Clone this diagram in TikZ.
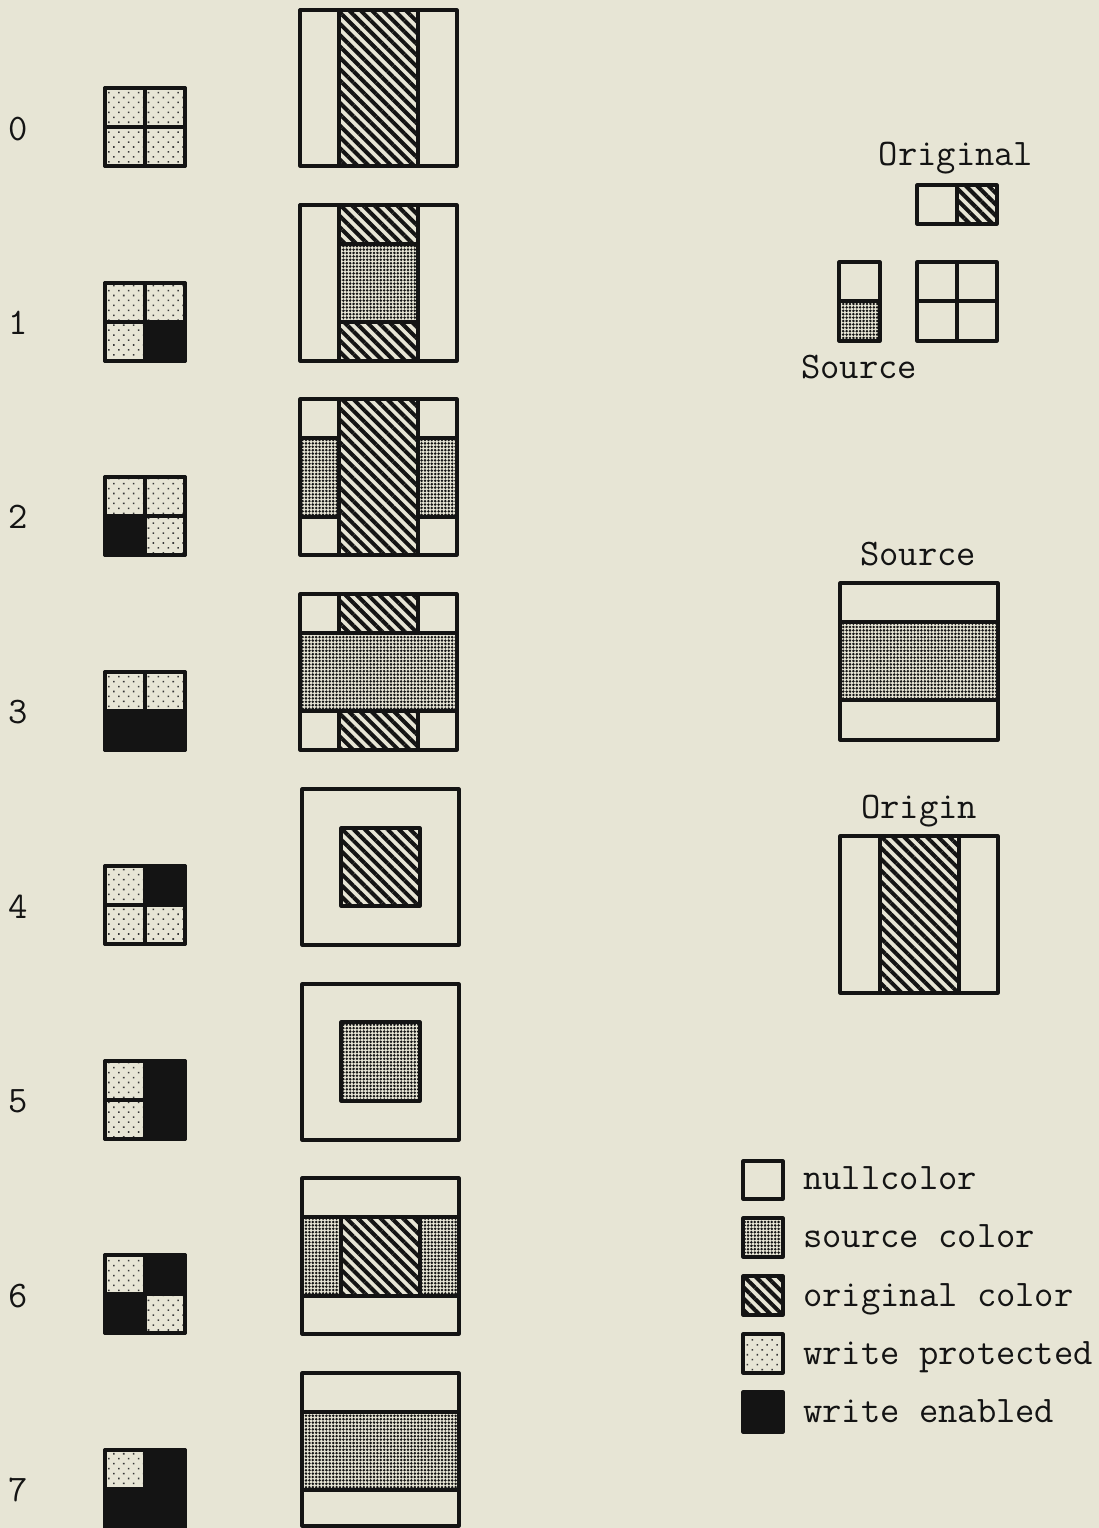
\documentclass[tikz,border=0pt]{standalone}
\usetikzlibrary{patterns.meta}
\definecolor{paper}{RGB}{231,229,213}
\definecolor{ink}{RGB}{20,20,20}
\tikzset{
  box/.style={draw=ink, line width=3.2pt, line join=round},
  nullc/.style={box, fill=paper},
  srcc/.style={box, pattern={Dots[distance=3.4pt, radius=1.4pt]}, pattern color=ink},
  origc/.style={box, pattern={Lines[angle=-45, distance=8pt, line width=4pt]}, pattern color=ink},
  wpc/.style={box, pattern={Dots[distance=7pt, radius=1.1pt, angle=45]}, pattern color=ink!85},
  wec/.style={box, fill=ink},
  lbl/.style={font=\fontsize{37.5}{42}\selectfont\ttfamily, text=ink, inner sep=0pt},
}
% small 2x2 grid: #1 top y, #2 TR style, #3 BL style, #4 BR style
\newcommand{\wgrid}[4]{%
  \draw[wpc] (105,#1) rectangle (145,#1+39);
  \draw[#2] (145,#1) rectangle (185,#1+39);
  \draw[#3] (105,#1+39) rectangle (145,#1+78);
  \draw[#4] (145,#1+39) rectangle (185,#1+78);
  \draw[box] (105,#1) rectangle (185,#1+78);
}
\begin{document}
\begin{tikzpicture}[x=1pt,y=-1pt]
\useasboundingbox (0,0) rectangle (1099,1528);
\fill[paper] (0,0) rectangle (1099,1528);

% row numbers
\foreach \n/\yy in {0/140,1/334,2/528,3/723,4/918,5/1112,6/1307,7/1501}
  \node[lbl, anchor=base] (num\n) at (18,\yy) {\n};

% small write-mask grids
\wgrid{88}{wpc}{wpc}{wpc}
\wgrid{283}{wpc}{wpc}{wec}
\wgrid{477}{wpc}{wec}{wpc}
\wgrid{672}{wpc}{wec}{wec}
\wgrid{866}{wec}{wpc}{wpc}
\wgrid{1061}{wec}{wpc}{wec}
\wgrid{1255}{wec}{wec}{wpc}
\wgrid{1450}{wec}{wec}{wec}

% big boxes
% row 0
\draw[nullc] (300,10) rectangle (457,166);
\draw[origc] (339,10) rectangle (418,166);
% row 1
\draw[nullc] (300,205) rectangle (457,361);
\draw[origc] (339,205) rectangle (418,244);
\draw[srcc] (339,244) rectangle (418,322);
\draw[origc] (339,322) rectangle (418,361);
% row 2
\draw[nullc] (300,399) rectangle (457,555);
\draw[srcc] (300,438) rectangle (339,517);
\draw[srcc] (418,438) rectangle (457,517);
\draw[origc] (339,399) rectangle (418,555);
% row 3
\draw[nullc] (300,594) rectangle (457,750);
\draw[origc] (339,594) rectangle (418,633);
\draw[origc] (339,711) rectangle (418,750);
\draw[srcc] (300,633) rectangle (457,711);
% row 4
\draw[nullc] (302,789) rectangle (459,945);
\draw[origc] (341,828) rectangle (420,906);
% row 5
\draw[nullc] (302,984) rectangle (459,1140);
\draw[srcc] (341,1022) rectangle (420,1101);
% row 6
\draw[nullc] (302,1178) rectangle (459,1334);
\draw[srcc] (302,1217) rectangle (341,1296);
\draw[origc] (341,1217) rectangle (420,1296);
\draw[srcc] (420,1217) rectangle (459,1296);
% row 7
\draw[nullc] (302,1373) rectangle (459,1526);
\draw[srcc] (302,1412) rectangle (459,1490);

% top-right key: Original / Source
\node[lbl, anchor=base] (origlbl) at (956,165) {Original};
\draw[nullc] (917,185) rectangle (957,224);
\draw[origc] (957,185) rectangle (997,224);
\draw[nullc] (839,262) rectangle (880,301);
\draw[srcc] (839,301) rectangle (880,341);
\draw[nullc] (917,262) rectangle (957,301);
\draw[nullc] (957,262) rectangle (997,301);
\draw[nullc] (917,301) rectangle (957,341);
\draw[nullc] (957,301) rectangle (997,341);
\node[lbl, anchor=base] (srclbl) at (859,378) {Source};

% Source box
\node[lbl, anchor=base] (srcboxlbl) at (918,565) {Source};
\draw[nullc] (840,583) rectangle (998,740);
\draw[srcc] (840,622) rectangle (998,700);

% Origin box
\node[lbl, anchor=base] (originlbl) at (919,818) {Origin};
\draw[nullc] (840,836) rectangle (998,993);
\draw[origc] (880,836) rectangle (959,993);

% legend
\draw[nullc] (743,1161) rectangle (783,1199);
\draw[srcc] (743,1218) rectangle (783,1257);
\draw[origc] (743,1276) rectangle (783,1315);
\draw[wpc] (743,1334) rectangle (783,1373);
\draw[wec] (743,1392) rectangle (783,1432);
\node[lbl, anchor=base west] (lgnull) at (803,1189) {nullcolor};
\node[lbl, anchor=base west] (lgsrc) at (803,1247) {source color};
\node[lbl, anchor=base west] (lgorig) at (803,1306) {original color};
\node[lbl, anchor=base west] (lgwp) at (803,1364) {write protected};
\node[lbl, anchor=base west] (lgwe) at (803,1422) {write enabled};
\end{tikzpicture}
\end{document}
